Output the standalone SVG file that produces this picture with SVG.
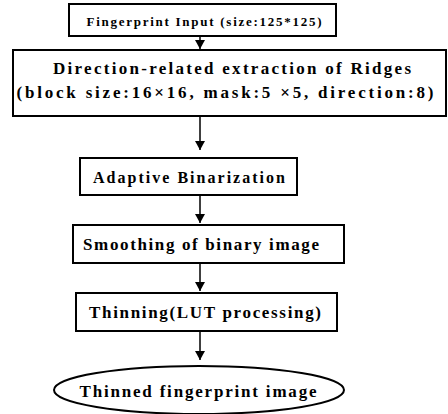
<svg xmlns="http://www.w3.org/2000/svg" width="448" height="414" viewBox="0 0 448 414">
<style>
.b{fill:#fff;stroke:#000;stroke-width:2}
.t{font-family:"Liberation Serif",serif;font-weight:bold;fill:#000;text-anchor:middle;dominant-baseline:central}
.c{stroke:#000;stroke-width:1.5;fill:none}
</style>
<defs>
<marker id="ah" markerWidth="9" markerHeight="10" refX="9" refY="5" orient="auto" markerUnits="userSpaceOnUse">
<path d="M0,0 L9,5 L0,10 Z" fill="#000"/>
</marker>
</defs>
<rect width="448" height="414" fill="#fff"/>
<g id="n1">
<rect class="b" x="69" y="4" width="267" height="32"/>
<text class="t" x="204" y="21" font-size="13" textLength="235" lengthAdjust="spacing">Fingerprint Input (size:125*125)</text>
</g>
<g id="n2">
<rect class="b" x="13" y="50" width="433" height="66"/>
<text class="t" x="232" y="68" font-size="17" textLength="358" lengthAdjust="spacing">Direction-related extraction of Ridges</text>
<text class="t" x="225" y="92" font-size="17" textLength="417" lengthAdjust="spacing">(block size:16×16, mask:5 ×5, direction:8)</text>
</g>
<g id="n3">
<rect class="b" x="80" y="158" width="217" height="37"/>
<text class="t" x="189" y="177" font-size="16" textLength="192" lengthAdjust="spacing">Adaptive Binarization</text>
</g>
<g id="n4">
<rect class="b" x="73" y="225" width="271" height="38"/>
<text class="t" x="201" y="244" font-size="17" textLength="236" lengthAdjust="spacing">Smoothing of binary image</text>
</g>
<g id="n5">
<rect class="b" x="76" y="293" width="261" height="38"/>
<text class="t" x="205" y="312" font-size="17" textLength="232" lengthAdjust="spacing">Thinning(LUT processing)</text>
</g>
<g id="n6">
<ellipse class="b" cx="199" cy="390" rx="145" ry="24"/>
<text class="t" x="198" y="391" font-size="17" textLength="237" lengthAdjust="spacing">Thinned fingerprint image</text>
</g>
<g id="connectors">
<line class="c" x1="200" y1="36" x2="200" y2="49" marker-end="url(#ah)"/>
<line class="c" x1="200" y1="116" x2="200" y2="150" marker-end="url(#ah)"/>
<line class="c" x1="200" y1="195" x2="200" y2="223" marker-end="url(#ah)"/>
<line class="c" x1="200" y1="263" x2="200" y2="291" marker-end="url(#ah)"/>
<line class="c" x1="200" y1="331" x2="200" y2="360" marker-end="url(#ah)"/>
</g>
</svg>
